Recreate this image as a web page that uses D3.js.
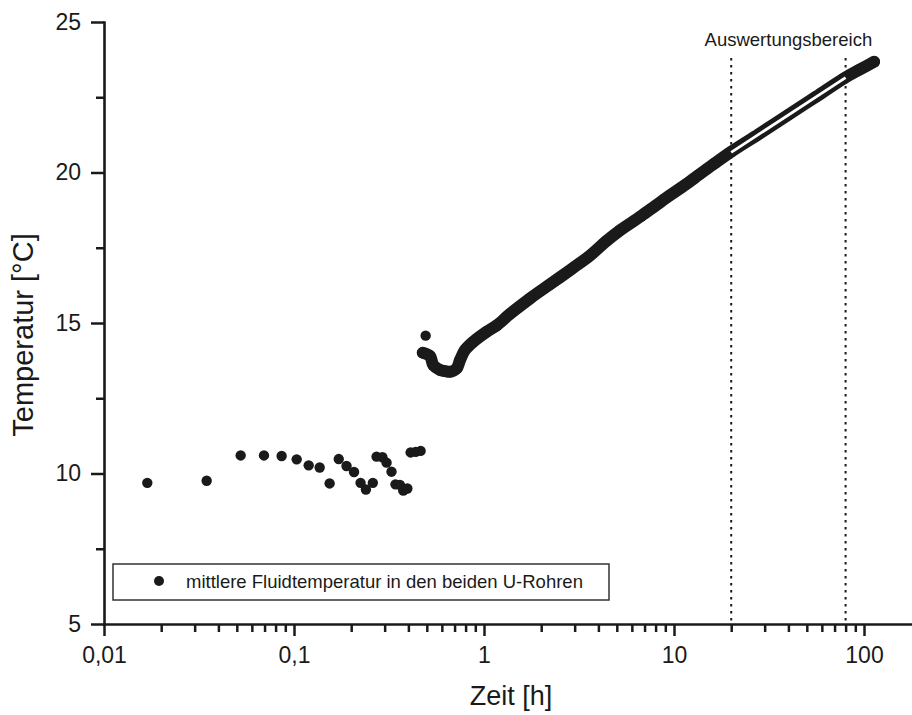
<!DOCTYPE html>
<html><head><meta charset="utf-8">
<script src="https://cdn.jsdelivr.net/npm/d3@7"></script>
<style>
body{margin:0;background:#fff}
svg{display:block}
text{font-family:"Liberation Sans",Arial,Helvetica,sans-serif;fill:#1a1a1a}
</style>
</head><body>
<svg id="chart" width="912" height="715"></svg>
<script>
// Early one-per-minute readings (sparse) incl. the outlier at ~0.49 h
const sparseTime = [0.0169,0.0347,0.0524,0.0695,0.0861,0.1033,0.1195,0.1365,0.154,0.172,0.189,0.207,0.224,0.239,0.260,0.272,0.292,0.307,0.326,0.342,0.361,0.376,0.395,0.411,0.437,0.464,0.493];
const sparseTemp = [9.69,9.76,10.60,10.60,10.58,10.47,10.27,10.20,9.67,10.48,10.25,10.05,9.69,9.47,9.69,10.56,10.54,10.36,10.06,9.64,9.62,9.43,9.50,10.70,10.72,10.75,14.58];
// Continuous (dense) record
const denseTime = [0.476,0.520,0.541,0.587,0.625,0.662,0.718,0.748,0.794,0.879,1.033,1.166,1.37,1.75,2.22,2.9,3.61,4.4,5.2,6.7,8.0,9.5,11.5,13.7,16.5,20,28,40,56,78.5,95,113];
const denseTemp = [14.01,13.90,13.60,13.44,13.40,13.38,13.49,13.77,14.10,14.38,14.71,14.92,15.30,15.82,16.28,16.80,17.24,17.72,18.08,18.55,18.90,19.24,19.60,19.95,20.32,20.69,21.28,21.92,22.52,23.13,23.42,23.68];
// Evaluation range (Auswertungsbereich) and fitted line
const rangeTimes = [20, 80];
const fitTime = [20, 80];
const fitTemp = [20.67, 23.15];
// Axis ticks
const xMajorTicks = [0.01, 0.1, 1, 10, 100];
const xTickLabels = ["0,01", "0,1", "1", "10", "100"];
const xMinorTicks = [2,3,4,5,6,7,8,9].flatMap(m => [0.01, 0.1, 1, 10, 100].map(d => m * d)).filter(v => v < 178);
const yMajorTicks = [5, 10, 15, 20, 25];
const yMinorTicks = [7.5, 12.5, 17.5, 22.5];
const legendLabel = "mittlere Fluidtemperatur in den beiden U-Rohren";

const ink = "#1a1a1a";
const svg = d3.select("#chart");
const x = d3.scaleLog().domain([0.01, 178.9]).range([104, 912]);
const y = d3.scaleLinear().domain([5, 25]).range([624, 22]);

// Axes
const xAxisG = svg.append("g").attr("transform", "translate(0,624)");
xAxisG.call(d3.axisBottom(x).tickValues(xMinorTicks).tickSize(8).tickSizeOuter(0).tickFormat(""));
xAxisG.call(g => g.select(".domain").remove());
const xAxisMaj = svg.append("g").attr("transform", "translate(0,624)")
  .call(d3.axisBottom(x).tickValues(xMajorTicks).tickSize(12).tickSizeOuter(0).tickPadding(11)
    .tickFormat((d, i) => xTickLabels[i]));
const yAxisMin = svg.append("g").attr("transform", "translate(104,0)")
  .call(d3.axisLeft(y).tickValues(yMinorTicks).tickSize(8).tickSizeOuter(0).tickFormat(""));
yAxisMin.select(".domain").remove();
const yAxisMaj = svg.append("g").attr("transform", "translate(104,0)")
  .call(d3.axisLeft(y).tickValues(yMajorTicks).tickSize(13).tickSizeOuter(0).tickPadding(10));

svg.selectAll(".tick line").attr("stroke", ink).attr("stroke-width", 2.5);
svg.selectAll(".domain").attr("stroke", ink).attr("stroke-width", 2.6).attr("stroke-linecap", "square");
svg.selectAll(".tick text").attr("font-size", 23).attr("fill", ink)
  .style("font-family", '"Liberation Sans",Arial,sans-serif');

// Axis titles
svg.append("text").attr("x", 511).attr("y", 705).attr("text-anchor", "middle")
  .attr("font-size", 27).text("Zeit [h]");
svg.append("text").attr("transform", "translate(33,335) rotate(-90)").attr("text-anchor", "middle")
  .attr("font-size", 29).text("Temperatur [°C]");

// Evaluation range lines
svg.selectAll("line.range").data(rangeTimes).join("line").attr("class", "range")
  .attr("x1", d => x(d)).attr("x2", d => x(d)).attr("y1", 58).attr("y2", 623)
  .attr("stroke", ink).attr("stroke-width", 2).attr("stroke-dasharray", "2.5,4.5");
svg.append("text").attr("x", d3.mean(rangeTimes, d => x(d))).attr("y", 46)
  .attr("text-anchor", "middle").attr("font-size", 18.5).text("Auswertungsbereich");

// Dense record as overlapping markers
const dense = denseTime.map((t, i) => ({t, v: denseTemp[i]}));
const line = d3.line().x(d => x(d.t)).y(d => y(d.v)).curve(d3.curveCatmullRom.alpha(0.5));
svg.append("path").datum(dense).attr("d", line).attr("fill", "none")
  .attr("stroke", ink).attr("stroke-width", 12).attr("stroke-linecap", "round").attr("stroke-linejoin", "round");
svg.append("g").selectAll("circle").data(dense).join("circle")
  .attr("cx", d => x(d.t)).attr("cy", d => y(d.v)).attr("r", 5.7).attr("fill", ink);

// Fit line (white) inside evaluation range
const fit = fitTime.map((t, i) => ({t, v: fitTemp[i]}));
svg.append("path").datum(fit).attr("d", d3.line().x(d => x(d.t)).y(d => y(d.v)))
  .attr("fill", "none").attr("stroke", "#fff").attr("stroke-width", 2.8);

// Sparse readings
const sparse = sparseTime.map((t, i) => ({t, v: sparseTemp[i]}));
svg.append("g").selectAll("circle").data(sparse).join("circle")
  .attr("cx", d => x(d.t)).attr("cy", d => y(d.v)).attr("r", 5.2).attr("fill", ink);

// Legend
const lg = svg.append("g");
lg.append("rect").attr("x", 113).attr("y", 564).attr("width", 496).attr("height", 36)
  .attr("fill", "#fff").attr("stroke", "#333").attr("stroke-width", 1.5);
lg.append("circle").attr("cx", 159).attr("cy", 581).attr("r", 5).attr("fill", ink);
lg.append("text").attr("x", 186).attr("y", 588).attr("font-size", 18.5).text(legendLabel);
</script>
</body></html>
